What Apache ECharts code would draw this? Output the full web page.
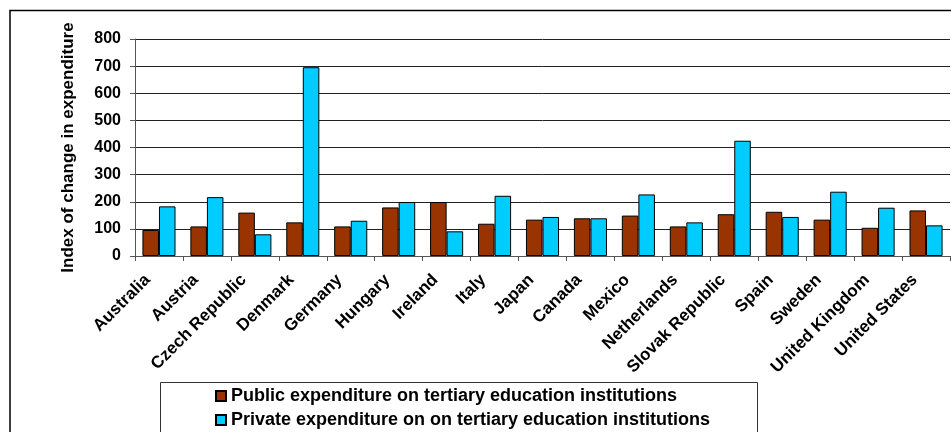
<!DOCTYPE html>
<html>
<head>
<meta charset="utf-8">
<script src="https://cdn.jsdelivr.net/npm/echarts@6/dist/echarts.min.js"></script>
<style>
html,body{margin:0;padding:0;background:#fff;}
#c{width:951px;height:432px;}
</style>
</head>
<body>
<div id="c"></div>
<script>
var categories = ["Australia","Austria","Czech Republic","Denmark","Germany","Hungary","Ireland","Italy","Japan","Canada","Mexico","Netherlands","Slovak Republic","Spain","Sweden","United Kingdom","United States"];
var publicValues = [96,109,160,124,109,179,199,119,134,139,149,109,154,163,134,104,168];
var privateValues = [183,217,80,696,130,199,91,222,144,139,227,124,425,144,237,178,113];
var seriesNames = ["Public expenditure on tertiary education institutions","Private expenditure on on tertiary education institutions"];
var yTitle = "Index of change in expenditure";

var chart = echarts.init(document.getElementById('c'), null, {renderer:'canvas'});
var font = 'Liberation Sans, Arial, sans-serif';
chart.setOption({
  animation:false,
  backgroundColor:'#fff',
  graphic:[{
    type:'rect', silent:true, z:0,
    shape:{x:10,y:10.5,width:1000,height:500},
    style:{fill:'none',stroke:'#000',lineWidth:1.5}
  },{
    type:'rect', silent:true, z:0,
    shape:{x:160.5,y:382.5,width:597,height:100},
    style:{fill:'none',stroke:'#333',lineWidth:1}
  }],
  grid:{left:135,right:1,top:39,bottom:176,containLabel:false},
  legend:{
    orient:'vertical', left:215, top:382, height:60,
    padding:[5,0,0,0],
    itemWidth:10, itemHeight:10, itemGap:6,
    icon:'rect',
    textStyle:{fontFamily:font,fontWeight:'bold',fontSize:18,color:'#000',lineHeight:18},
    data:seriesNames
  },
  xAxis:{
    type:'category', data:categories,
    axisLine:{lineStyle:{color:'#555',width:1}},
    axisTick:{show:true,length:5,lineStyle:{color:'#555'}},
    axisLabel:{rotate:45,interval:0,margin:10,padding:[0,16,0,0],fontFamily:font,fontWeight:'bold',fontSize:17,color:'#000'}
  },
  yAxis:{
    type:'value', min:0, max:800, interval:100,
    name:yTitle, nameLocation:'middle', nameGap:58,
    nameTextStyle:{fontFamily:font,fontWeight:'bold',fontSize:17,color:'#000'},
    axisLine:{show:true,lineStyle:{color:'#555',width:1}},
    axisTick:{show:true,length:5,lineStyle:{color:'#555'}},
    axisLabel:{margin:14,fontFamily:font,fontWeight:'bold',fontSize:16,color:'#000'},
    splitLine:{show:true,lineStyle:{color:'#222',width:1}}
  },
  series:[
    {name:seriesNames[0],type:'bar',data:publicValues,barGap:'0%',barCategoryGap:'31%',
     itemStyle:{color:'#993300',borderColor:'#000',borderWidth:1}},
    {name:seriesNames[1],type:'bar',data:privateValues,barGap:'0%',barCategoryGap:'31%',
     itemStyle:{color:'#00CCFF',borderColor:'#000',borderWidth:1}}
  ]
});
</script>
</body>
</html>
